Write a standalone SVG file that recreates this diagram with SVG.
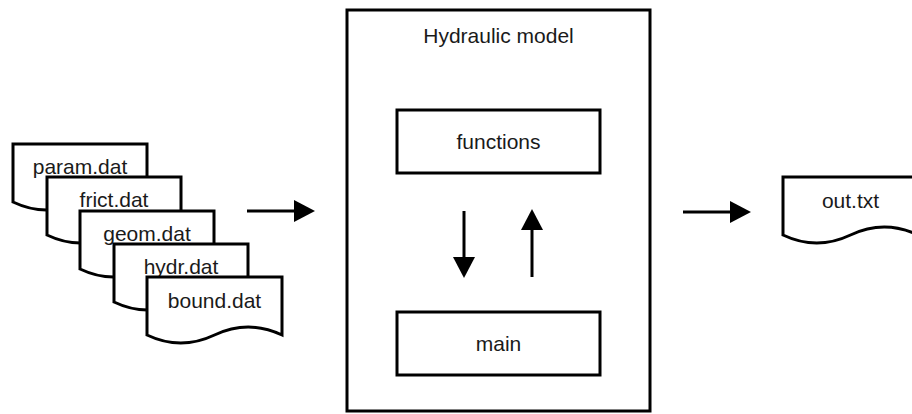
<svg xmlns="http://www.w3.org/2000/svg" width="912" height="414" viewBox="0 0 912 414">
  <style>
    .shape{fill:#fff;stroke:#000;stroke-width:3}
    .lbl{font-family:"Liberation Sans",Arial,sans-serif;font-size:21px;fill:#1a1a1a;text-anchor:middle}
    .conn{stroke:#000;stroke-width:3;fill:none}
  </style>
  <defs>
    <!-- solid triangular head, base placed at the line end -->
    <marker id="head" markerUnits="userSpaceOnUse" markerWidth="22" markerHeight="22" refX="0" refY="11" orient="auto">
      <path d="M0,0 L21,11 L0,22 Z" fill="#000"/>
    </marker>
  </defs>

  <!-- input data files, stacked -->
  <g id="param">
    <path class="shape" d="M13,144 H147 V202 Q113.5,186 80,202 T13,202 Z"/>
    <text class="lbl" x="80" y="174">param.dat</text>
  </g>
  <g id="frict">
    <path class="shape" d="M47,177 H181 V235 Q147.5,219 114,235 T47,235 Z"/>
    <text class="lbl" x="114" y="207">frict.dat</text>
  </g>
  <g id="geom">
    <path class="shape" d="M80,211 H214 V269 Q180.5,253 147,269 T80,269 Z"/>
    <text class="lbl" x="147" y="241">geom.dat</text>
  </g>
  <g id="hydr">
    <path class="shape" d="M114,244 H248 V302 Q214.5,286 181,302 T114,302 Z"/>
    <text class="lbl" x="181" y="274">hydr.dat</text>
  </g>
  <g id="bound">
    <path class="shape" d="M147,277 H282 V335 Q248.25,319 214.5,335 T147,335 Z"/>
    <text class="lbl" x="214.5" y="308">bound.dat</text>
  </g>

  <!-- model container -->
  <g id="model">
    <rect class="shape" x="347" y="10" width="303" height="401"/>
    <text class="lbl" x="498.5" y="43">Hydraulic model</text>
  </g>
  <g id="functions">
    <rect class="shape" x="397" y="110" width="203" height="63"/>
    <text class="lbl" x="498.5" y="149">functions</text>
  </g>
  <g id="main">
    <rect class="shape" x="397" y="312" width="203" height="63"/>
    <text class="lbl" x="498.5" y="351">main</text>
  </g>

  <!-- output file -->
  <g id="out">
    <path class="shape" d="M783,177 H918 V235 Q884.25,219 850.5,235 T783,235 Z"/>
    <text class="lbl" x="850.5" y="208">out.txt</text>
  </g>

  <!-- connectors -->
  <g id="connectors">
    <line class="conn" x1="247" y1="211" x2="294" y2="211" marker-end="url(#head)"/>
    <line class="conn" x1="683" y1="212" x2="730" y2="212" marker-end="url(#head)"/>
    <line class="conn" x1="464" y1="211" x2="464" y2="257" marker-end="url(#head)"/>
    <line class="conn" x1="532" y1="277" x2="532" y2="230" marker-end="url(#head)"/>
  </g>
</svg>
